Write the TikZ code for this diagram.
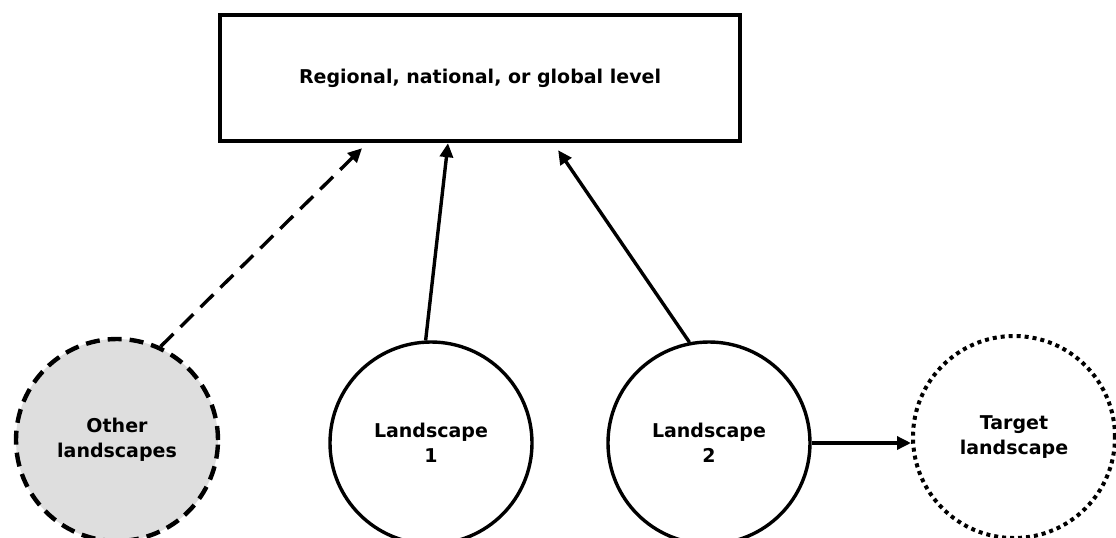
\documentclass[tikz,border=0pt]{standalone}
\usepackage{fontspec}
\setmainfont{DejaVu Sans}
\usetikzlibrary{arrows.meta,calc}

\begin{document}
\begin{tikzpicture}[x=0.5pt, y=-0.5pt,
    landscape/.style={circle, draw, line width=1.7pt, minimum size=101pt, inner sep=0pt,
        align=center, font=\fontsize{9.5}{12.5}\selectfont\bfseries},
    link/.style={line width=1.7pt, -{Triangle[length=7pt,width=6.5pt]}}]
    % Canvas
    \useasboundingbox (0,0) rectangle (1116,537);
    % Top level box
    \node[draw, line width=2.2pt, minimum width=260pt, minimum height=63pt,
        font=\fontsize{9.5}{12.5}\selectfont\bfseries] (level) at (480,78) {Regional, national, or global level};
    % Landscapes
    \node[landscape, line width=2.2pt, dash pattern=on 7pt off 4pt, fill=black!13] (other) at (117,440) {Other\\landscapes};
    \node[landscape] (land1) at (431,443) {Landscape\\1};
    \node[landscape] (land2) at (709,443) {Landscape\\2};
    \node[landscape, line width=2pt, dash pattern=on 2pt off 2pt] (target) at (1014,437) {Target\\landscape};
    % Links to the top level
    \draw[link, dash pattern=on 9pt off 5pt] (other.65) -- ($(level.south west)!0.275!(level.south east)+(0,5)$);
    \draw[link] (land1.93) -- ($(level.south west)!0.439!(level.south east)$);
    \draw[link] (land2.101) -- ($(level.south west)!0.649!(level.south east)+(0,7)$);
    % Link to the target
    \draw[link] (land2.east) -- (land2.east -| target.west);
\end{tikzpicture}
\end{document}
